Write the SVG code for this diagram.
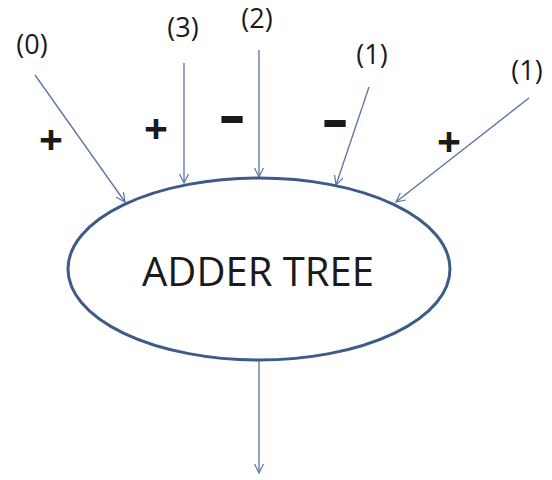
<svg xmlns="http://www.w3.org/2000/svg" width="552" height="480" viewBox="0 0 552 480">
<defs>
<marker id="ah" markerWidth="12" markerHeight="12" refX="10" refY="5" orient="auto" markerUnits="userSpaceOnUse">
<path d="M1,0.5 L10,5 L1,9.5" fill="none" stroke="#5a74a0" stroke-width="1.2"/>
</marker>
<style>
.c{stroke:#5a74a0;stroke-width:1.3;fill:none;marker-end:url(#ah)}
.lbl{font-family:"Open Sans","Liberation Sans",sans-serif;font-size:27px;fill:#1a1a1a;text-anchor:middle}
.sg{font-family:"Open Sans","Liberation Sans",sans-serif;font-weight:bold;fill:#1a1a1a;text-anchor:middle}
</style>
</defs>
<rect width="552" height="480" fill="#ffffff"/>
<g id="connectors">
<line class="c" x1="35" y1="75" x2="125" y2="202"/>
<line class="c" x1="184" y1="63" x2="184" y2="183"/>
<line class="c" x1="259" y1="50" x2="259" y2="177"/>
<line class="c" x1="369" y1="87" x2="336" y2="185"/>
<line class="c" x1="529" y1="98" x2="396" y2="202"/>
<line class="c" x1="259" y1="361" x2="259" y2="473"/>
</g>
<g id="adder">
<ellipse cx="259" cy="269" rx="191" ry="91" fill="#ffffff" stroke="#3d5a88" stroke-width="3"/>
<text x="258" y="286" font-family="'Open Sans','Liberation Sans',sans-serif" font-size="40" fill="#1a1a1a" text-anchor="middle">ADDER TREE</text>
</g>
<g id="in0"><text class="lbl" x="32" y="54">(0)</text><text class="sg" x="51" y="155" font-size="42">+</text></g>
<g id="in3"><text class="lbl" x="183" y="37">(3)</text><text class="sg" x="156" y="144" font-size="42">+</text></g>
<g id="in2"><text class="lbl" x="257" y="28">(2)</text><text class="sg" transform="translate(232,0) scale(1.4,1)" x="0" y="135" font-size="58">-</text></g>
<g id="in1a"><text class="lbl" x="372" y="64">(1)</text><text class="sg" transform="translate(335,0) scale(1.4,1)" x="0" y="139" font-size="58">-</text></g>
<g id="in1b"><text class="lbl" x="527" y="80">(1)</text><text class="sg" x="449" y="157" font-size="42">+</text></g>
</svg>
